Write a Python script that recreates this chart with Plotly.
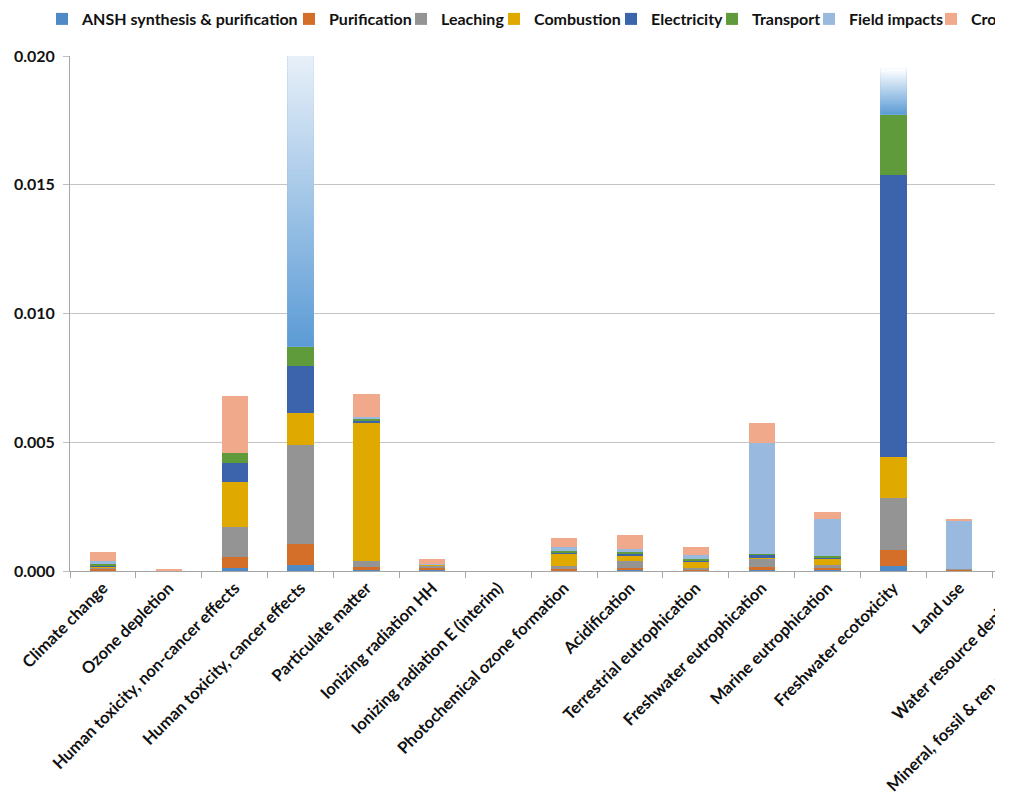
import plotly.graph_objects as go

categories = [
    "Climate change", "Ozone depletion", "Human toxicity, non-cancer effects",
    "Human toxicity, cancer effects", "Particulate matter", "Ionizing radiation HH",
    "Ionizing radiation E (interim)", "Photochemical ozone formation", "Acidification",
    "Terrestrial eutrophication", "Freshwater eutrophication", "Marine eutrophication",
    "Freshwater ecotoxicity", "Land use", "Water resource depletion",
    "Mineral, fossil & ren resource depletion",
]

series_names = ["ANSH synthesis & purification", "Purification", "Leaching", "Combustion",
                "Electricity", "Transport", "Field impacts", "Crop production"]

ansh = [0.00002, 0.0, 0.00013, 0.00022, 0.00004, 0.00003, 0.0, 0.00001, 0.00004, 0.00001,
        0.00004, 0.00004, 0.00021, 0.00001, 0.00002, 0.00003]
purification = [0.00006, 0.0, 0.00040, 0.00082, 0.00012, 0.00010, 0.0, 0.00006, 0.00009, 0.00004,
                0.00012, 0.00009, 0.00062, 0.00004, 0.00005, 0.00008]
leaching = [0.00005, 0.0, 0.00118, 0.00384, 0.00023, 0.00009, 0.0, 0.00014, 0.00027, 0.00008,
            0.00031, 0.00010, 0.00199, 0.00003, 0.00004, 0.00006]
combustion = [0.00005, 0.0, 0.00176, 0.00124, 0.00538, 0.00002, 0.0, 0.00048, 0.00022, 0.00025,
              0.00002, 0.00024, 0.00162, 0.0, 0.00002, 0.00003]
electricity = [0.00003, 0.0, 0.00074, 0.00185, 0.00006, 0.00001, 0.0, 0.00003, 0.00005, 0.00003,
               0.00014, 0.00004, 0.01094, 0.0, 0.00003, 0.00006]
transport = [0.00005, 0.0, 0.00036, 0.00074, 0.00010, 0.00002, 0.0, 0.00007, 0.00006, 0.00004,
             0.00004, 0.00009, 0.00234, 0.0, 0.00001, 0.00004]
field_impacts = [0.00011, 0.0, 0.0, 0.01350, 0.00004, 0.00001, 0.0, 0.00014, 0.00012, 0.00017,
                 0.00430, 0.00141, 0.00400, 0.00186, 0.00040, 0.00005]
crop = [0.00036, 0.00004, 0.00221, 0.00250, 0.00090, 0.00019, 0.0, 0.00036, 0.00056, 0.00030,
        0.00078, 0.00028, 0.00050, 0.00009, 0.00006, 0.00020]

y_ticks = [0.0, 0.005, 0.010, 0.015, 0.020]

series_values = [ansh, purification, leaching, combustion, electricity, transport, field_impacts, crop]
colors = ["#4F89C6", "#D46F2A", "#949494", "#E0A900", "#3B64AD", "#5F9A3B", "#99B9DF", "#F0A98B"]

# legend text starting pixel positions (style/layout)
legend_text_px = [82, 329, 441, 534, 651, 752, 849, 971]

W, H = 1134, 811
ML, MR, MT, MB = 70, 10, 56, 240
plot_w = W - ML - MR
plot_h = H - MT - MB
y_max = y_ticks[-1]
FONT = dict(family="Lato", size=16, color="#111111", weight="bold")
XFONT = dict(FONT, size=16.5)
LFONT = dict(FONT, size=16)

fig = go.Figure()
for i, (name, vals, col) in enumerate(zip(series_names, series_values, colors)):
    fig.add_trace(go.Bar(
        x=categories, y=vals, name=name, marker=dict(color=col, line=dict(width=0)),
        legend="legend" if i == 0 else f"legend{i+1}",
    ))

# fading overlay on off-scale bars (Field impacts segment running past the axis)
def hex_to_rgb(h):
    h = h.lstrip("#")
    return tuple(int(h[k:k + 2], 16) for k in (0, 2, 4))

def mix(c0, c1, t):
    a, b = hex_to_rgb(c0), hex_to_rgb(c1)
    return "rgb(%d,%d,%d)" % tuple(round(a[k] + (b[k] - a[k]) * t) for k in range(3))

fade_specs = {
    "Human toxicity, cancer effects": dict(c0="#5B9BD5", c1="#E8F0F9", fade_frac=1.0, n=90),
    "Freshwater ecotoxicity": dict(c0="#5B9BD5", c1="#FFFFFF", fade_frac=0.78, n=30),
}
half_bar = 0.2
shapes = []
for cat, spec in fade_specs.items():
    idx = categories.index(cat)
    base = sum(s[idx] for s in series_values[:6])
    top = y_max * 1.012
    fade_top = base + (y_max - base) * spec["fade_frac"]
    n = spec["n"]
    step = (fade_top - base) / n
    for k in range(n):
        y0 = base + k * step
        y1 = y0 + step * 1.6
        shapes.append(dict(type="rect", xref="x", yref="y", x0=idx - half_bar, x1=idx + half_bar,
                           y0=y0, y1=min(y1, fade_top if spec["fade_frac"] < 1 else top),
                           fillcolor=mix(spec["c0"], spec["c1"], (k + 0.5) / n),
                           line=dict(width=0), layer="above"))
    if spec["fade_frac"] < 1:
        shapes.append(dict(type="rect", xref="x", yref="y", x0=idx - half_bar - 0.01,
                           x1=idx + half_bar + 0.01, y0=fade_top, y1=top,
                           fillcolor="#FFFFFF", line=dict(width=0), layer="above"))

layout = dict(
    width=W, height=H,
    margin=dict(l=ML, r=MR, t=MT, b=MB, autoexpand=False),
    barmode="stack", bargap=0.6, showlegend=True,
    plot_bgcolor="white", paper_bgcolor="white",
    font=FONT,
    shapes=shapes,
    xaxis=dict(type="category", tickangle=-45, ticks="outside", tickson="boundaries",
               ticklen=6, tickcolor="#A6A6A6", showline=True, linecolor="#A6A6A6",
               linewidth=1, showgrid=False, automargin=False, tickfont=XFONT,
               range=[-0.5, len(categories) - 0.5]),
    yaxis=dict(range=[0, y_max], tickvals=y_ticks, tickformat=".3f", showgrid=True,
               gridcolor="#C4C4C4", gridwidth=1.3, showline=True, linecolor="#A6A6A6",
               linewidth=1, ticks="outside", ticklen=6, tickcolor="#BFBFBF",
               ticklabelstandoff=5,
               zeroline=False, automargin=False, tickfont=FONT),
)
leg_y = (H - MB - 19) / plot_h
for i, px in enumerate(legend_text_px):
    key = "legend" if i == 0 else f"legend{i+1}"
    layout[key] = dict(x=(px - 40 - ML) / plot_w, y=leg_y, xanchor="left", yanchor="middle",
                       orientation="h", font=LFONT, bgcolor="rgba(0,0,0,0)", borderwidth=0)
fig.update_layout(**layout)

post = (
    "var gd=document.getElementById('{plot_id}');"
    "document.body.style.margin='0';"
    "document.body.style.overflow='hidden';"
    "document.documentElement.style.overflow='hidden';"
    "var w=gd.parentElement; w.style.width='995px'; w.style.overflow='hidden';"
)
fig.write_html("out.html", post_script=post, config={"displayModeBar": False})
